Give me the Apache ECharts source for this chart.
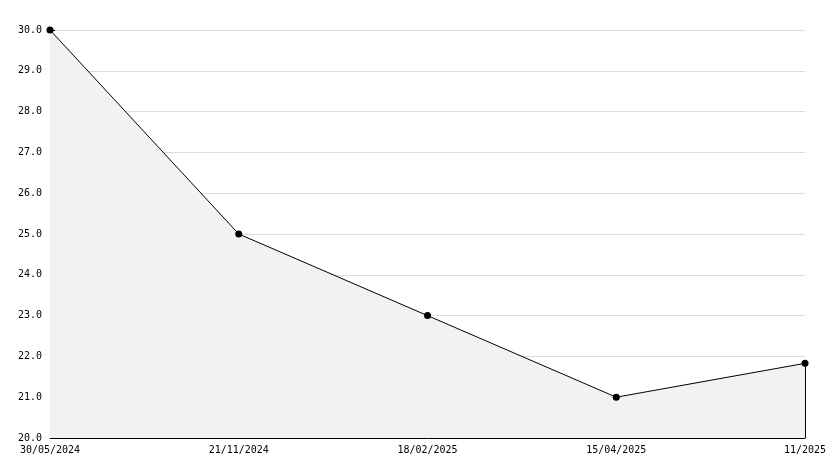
<!DOCTYPE html>
<html>
<head>
<meta charset="utf-8">
<script src="https://cdn.jsdelivr.net/npm/echarts@6/dist/echarts.min.js"></script>
<style>html,body{margin:0;padding:0;background:#fff;}#c{width:834px;height:468px;}</style>
</head>
<body>
<div id="c"></div>
<script>
var categories = ['30/05/2024', '21/11/2024', '18/02/2025', '15/04/2025', '11/2025'];
var values = [30.0, 25.0, 23.0, 21.0, 21.83];
var yMin = 20, yMax = 30, yStep = 1;

var font = 'DejaVu Sans Mono';
var chart = echarts.init(document.getElementById('c'), null, {renderer: 'canvas'});
var last = categories.length - 1;
chart.setOption({
  animation: false,
  backgroundColor: '#fff',
  grid: {left: 50, right: 29, top: 30, bottom: 30, containLabel: false},
  xAxis: {
    type: 'category',
    data: categories,
    boundaryGap: false,
    axisLine: {lineStyle: {color: '#000', width: 1}},
    axisTick: {show: true, inside: true, length: 5, alignWithLabel: true, lineStyle: {color: '#000', width: 1}},
    axisLabel: {color: '#000', fontFamily: font, fontSize: 10, margin: 7, interval: 0},
    splitLine: {show: false}
  },
  yAxis: {
    type: 'value',
    min: yMin, max: yMax, interval: yStep,
    axisLine: {show: true, lineStyle: {color: '#000', width: 1}},
    axisTick: {show: true, inside: true, length: 5, lineStyle: {color: '#000', width: 1}},
    minorTick: {show: true, splitNumber: 2, length: 5, lineStyle: {color: '#000', width: 1}},
    axisLabel: {color: '#000', fontFamily: font, fontSize: 10, margin: 8,
      formatter: function (v) { return v.toFixed(1); }},
    splitLine: {show: true, lineStyle: {color: '#dcdcdc', width: 1}}
  },
  series: [{
    type: 'line',
    data: values,
    symbol: 'circle',
    symbolSize: 7,
    itemStyle: {color: '#000'},
    lineStyle: {color: '#000', width: 1},
    areaStyle: {color: '#f2f2f2', opacity: 1},
    markLine: {
      silent: true,
      symbol: 'none',
      label: {show: false},
      lineStyle: {color: '#000', width: 1, type: 'solid'},
      data: [[{coord: [last, values[last]]}, {coord: [last, yMin]}]]
    }
  }]
});
</script>
</body>
</html>
